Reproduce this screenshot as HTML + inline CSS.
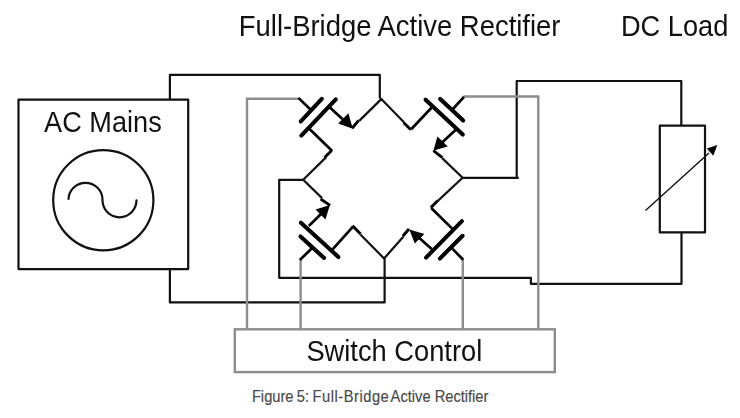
<!DOCTYPE html>
<html><head><meta charset="utf-8">
<style>
html,body{margin:0;padding:0;background:#fff;}
body{width:740px;height:418px;overflow:hidden;}
svg{display:block;}
text{font-family:"Liberation Sans",sans-serif;}
</style></head>
<body>
<svg width="740" height="418" viewBox="0 0 740 418">
<rect x="0" y="0" width="740" height="418" fill="#fff"/>
<!-- titles -->
<g fill="#111" font-size="27.5" opacity="0.999">
<text transform="translate(238.8,36.1) scale(0.998,1.04)">Full-Bridge Active Rectifier</text>
<text transform="translate(620.9,36.1) scale(0.99,1.04)">DC Load</text>
<text transform="translate(44.1,132.1) scale(0.987,1.04)">AC Mains</text>
<text transform="translate(306.4,360.6) scale(0.992,1.04)">Switch Control</text>
</g>
<g font-size="15.8" fill="#484848" stroke="#484848" stroke-width="0.15">
<text transform="translate(251.9,401.6) scale(0.93,1)">Figure</text>
<text transform="translate(296.8,401.6) scale(0.93,1)">5:</text>
<text transform="translate(312.6,401.6) scale(0.93,1)" letter-spacing="0.55">Full-Bridge</text>
<text transform="translate(390.6,401.6) scale(0.93,1)" letter-spacing="0.0">Active</text>
<text transform="translate(434.8,401.6) scale(0.93,1)" letter-spacing="-0.05">Rectifier</text>
</g>



<g fill="none" stroke="#111" stroke-width="2.2" stroke-linejoin="round">
  <rect x="18.5" y="99.7" width="169.7" height="169.4"/>
  <circle cx="103.3" cy="200.2" r="50.1"/>
  <path d="M68.5,199.8 A17,17 0 0 1 102.5,199.8 L102.5,200.3 A17,17 0 0 0 136.5,200.3 L136.5,201"/>
  <polyline points="169.9,99.7 169.9,74.8 379.8,74.8 379.8,98"/>
  <polyline points="169.9,269 169.9,302.4 384.6,302.4 384.6,258.6"/>
  <polyline points="462.6,177.8 518,177.8 516.7,177.8 516.7,81 681.3,81 681.3,125.6"/>
  <rect x="659.8" y="125.6" width="45.2" height="106.8"/>
  <polyline points="681.5,232.4 681.5,283.8 530.9,283.8 530.9,277.8 279.2,277.8 279.2,179.8 303.2,179.8"/>
</g>
<g fill="none" stroke="#8d8d8d" stroke-width="2.4">
  <rect x="234.8" y="329.3" width="320" height="42.8"/>
  <polyline points="247,329 247,98.7 298.6,98.7"/>
  <polyline points="300.6,329 300.6,259.6"/>
  <polyline points="462.8,329 462.8,259.4"/>
  <polyline points="538.3,329 538.3,96.5 463.4,96.5"/>
</g>
<!-- resistor arrow -->
<g>
  <line x1="645.5" y1="210.6" x2="709" y2="152.9" stroke="#111" stroke-width="1.4"/>
  <polygon points="717.3,145.1 706.8,148.5 713.3,155.8" fill="#000"/>
</g>

<!-- bridge -->
<g fill="none" stroke="#000" stroke-width="2.7" stroke-linecap="butt">
  <!-- gate leads -->
  <line x1="298.4" y1="97.9" x2="311" y2="110"/>
  <line x1="452.5" y1="109.5" x2="464" y2="96.8"/>
  <line x1="312.5" y1="247.8" x2="299.8" y2="260"/>
  <line x1="451.3" y1="247.6" x2="463.2" y2="259.8"/>
  <!-- drain/source leads -->
  <line x1="329.4" y1="106.9" x2="344" y2="120.5"/>
  <line x1="309.3" y1="128.7" x2="332.2" y2="151"/>
  <line x1="431.5" y1="107.8" x2="411.2" y2="129.2"/>
  <line x1="455.5" y1="130" x2="441" y2="143.5"/>
  <line x1="308.8" y1="226" x2="322.5" y2="212.5"/>
  <line x1="331.7" y1="250.4" x2="353" y2="226.6"/>
  <line x1="453.2" y1="229.6" x2="431.2" y2="208"/>
  <line x1="431.7" y1="249" x2="417" y2="236"/>
</g>
<g fill="none" stroke="#000" stroke-width="2.9" stroke-linecap="butt">
  <!-- near segments (to notch) -->
  <line x1="331.58" y1="150.58" x2="324.58" y2="157.48"/>
  <line x1="352.1" y1="128.3" x2="358.7" y2="120.4"/>
  <line x1="410.9" y1="129.7" x2="403.7" y2="122.7"/>
  <line x1="330.08" y1="205.42" x2="320.58" y2="199.02"/>
  <line x1="352.5" y1="225.7" x2="360.6" y2="233.9"/>
  <line x1="430.8" y1="207.6" x2="437.9" y2="200.5"/>
  <line x1="409.0" y1="229.0" x2="402.9" y2="236.0"/>
  <line x1="433.38" y1="150.72" x2="442.38" y2="157.72"/>
</g>
<g fill="none" stroke="#111" stroke-width="2.2" stroke-linejoin="round">
  <polyline points="326.2,157.1 303.2,179.8"/>
  <polyline points="359.2,120.9 381.3,99.1 404.2,122.4"/>
  <polyline points="322,198.1 303.2,179.8"/>
  <polyline points="360.4,234.5 384.1,258.6 403.5,236.6"/>
  <polyline points="437.6,201.1 462.6,177.8 442.2,158.1"/>
  <line x1="379.8" y1="98" x2="381.3" y2="99.1"/>
</g>
<g fill="none" stroke="#000" stroke-width="4.1" stroke-linecap="round">
  <line x1="300.8" y1="121.4" x2="321.8" y2="98.8"/>
  <line x1="301.3" y1="135.6" x2="335.8" y2="99.4"/>
  <line x1="440.2" y1="99" x2="463.2" y2="120.6"/>
  <line x1="425.6" y1="99.7" x2="462.8" y2="134.6"/>
  <line x1="300.5" y1="236.4" x2="324.1" y2="257.9"/>
  <line x1="300.9" y1="222.7" x2="338.4" y2="257.1"/>
  <line x1="439.8" y1="258.6" x2="462.6" y2="235.8"/>
  <line x1="426" y1="257.6" x2="461.9" y2="221.1"/>
</g>
<g fill="#000">
  <polygon points="352.8,128.8 338.2,123.4 348.4,113.2"/>
  <polygon points="433.5,150.4 437.4,136.6 447.8,146.6"/>
  <polygon points="329.9,205 315.6,209.6 325.5,219.4"/>
  <polygon points="409.3,229.4 414.8,243.6 424.4,234"/>
</g>
</svg>
</body></html>
